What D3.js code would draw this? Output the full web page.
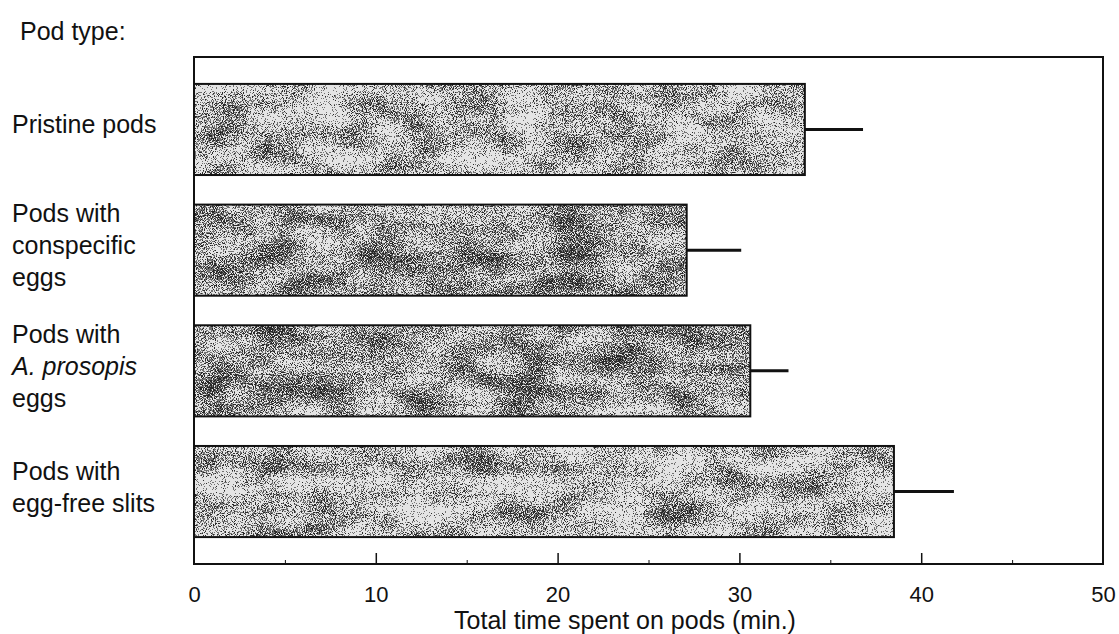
<!DOCTYPE html>
<html>
<head>
<meta charset="utf-8">
<script src="https://cdn.jsdelivr.net/npm/d3@7"></script>
<style>
  html, body { margin: 0; padding: 0; background: #fff; }
  svg { display: block; }
  text { font-family: "Liberation Sans", Arial, Helvetica, sans-serif; fill: #111; }
</style>
</head>
<body>
<svg id="chart" width="1119" height="634"></svg>
<script>
// Pod treatments (label lines; italic flag marks the species name)
const podTypes = [
  [{ t: "Pristine pods" }],
  [{ t: "Pods with" }, { t: "conspecific" }, { t: "eggs" }],
  [{ t: "Pods with" }, { t: "A. prosopis", italic: true }, { t: "eggs" }],
  [{ t: "Pods with" }, { t: "egg-free slits" }]
];
// Mean total time on pods (min.) and upper error value
const meanTime = [33.6, 27.1, 30.6, 38.5];
const errorTop = [36.8, 30.1, 32.7, 41.8];
const xTicks = [0, 10, 20, 30, 40, 50];
const xMinorTicks = [5, 15, 25, 35, 45];

const svg = d3.select("#chart");
const plot = { left: 194, right: 1103, top: 57, bottom: 564 };

const x = d3.scaleLinear().domain([0, 50]).range([plot.left, plot.right]);
const y = d3.scaleBand()
  .domain(d3.range(podTypes.length))
  .range([plot.top, plot.bottom])
  .paddingInner(0.245)
  .paddingOuter(0.223);

// Grainy halftone texture for the bars (two densities)
const defs = svg.append("defs");
function grainFilter(id, seed, offset) {
  const f = defs.append("filter").attr("id", id)
    .attr("x", 0).attr("y", 0).attr("width", 1).attr("height", 1)
    .attr("color-interpolation-filters", "sRGB");
  f.append("feTurbulence").attr("type", "fractalNoise").attr("baseFrequency", 1.1)
    .attr("numOctaves", 1).attr("seed", seed).attr("result", "fine");
  f.append("feTurbulence").attr("type", "fractalNoise").attr("baseFrequency", "0.02 0.04")
    .attr("numOctaves", 2).attr("seed", seed + 7).attr("result", "coarse");
  f.append("feColorMatrix").attr("in", "fine").attr("type", "matrix")
    .attr("values", "0 0 0 0 0  0 0 0 0 0  0 0 0 0 0  1 0 0 0 0").attr("result", "fineA");
  f.append("feColorMatrix").attr("in", "coarse").attr("type", "matrix")
    .attr("values", "0 0 0 0 0  0 0 0 0 0  0 0 0 0 0  0 1 0 0 0").attr("result", "coarseA");
  f.append("feComposite").attr("in", "fineA").attr("in2", "coarseA")
    .attr("operator", "arithmetic").attr("k1", 0).attr("k2", 3.4).attr("k3", 1.2).attr("k4", offset)
    .attr("result", "mixA");
  f.append("feComponentTransfer").attr("in", "mixA")
    .append("feFuncA").attr("type", "discrete").attr("tableValues", "0 0.5 0.82");
}
grainFilter("grainLight", 3, -2.08);
grainFilter("grainDark", 9, -1.93);
const grainOf = i => (i === 1 || i === 2) ? "url(#grainDark)" : "url(#grainLight)";

const bars = svg.append("g").selectAll("g.bar")
  .data(meanTime)
  .join("g").attr("class", "bar");

bars.append("rect")
  .attr("x", x(0))
  .attr("y", (d, i) => y(i))
  .attr("width", d => x(d) - x(0))
  .attr("height", y.bandwidth())
  .attr("fill", "#e4e4e4");

bars.append("rect")
  .attr("x", x(0))
  .attr("y", (d, i) => y(i))
  .attr("width", d => x(d) - x(0))
  .attr("height", y.bandwidth())
  .attr("fill", "#1a1a1a")
  .attr("filter", (d, i) => grainOf(i));

bars.append("rect")
  .attr("x", x(0))
  .attr("y", (d, i) => y(i))
  .attr("width", d => x(d) - x(0))
  .attr("height", y.bandwidth())
  .attr("fill", "none")
  .attr("stroke", "#111")
  .attr("stroke-width", 2);

// Error bars (upper side only)
svg.append("g").selectAll("line")
  .data(errorTop)
  .join("line")
  .attr("x1", (d, i) => x(meanTime[i]))
  .attr("x2", d => x(d))
  .attr("y1", (d, i) => y(i) + y.bandwidth() / 2)
  .attr("y2", (d, i) => y(i) + y.bandwidth() / 2)
  .attr("stroke", "#111")
  .attr("stroke-width", 3);

// Frame
svg.append("rect")
  .attr("x", plot.left).attr("y", plot.top)
  .attr("width", plot.right - plot.left).attr("height", plot.bottom - plot.top)
  .attr("fill", "none").attr("stroke", "#111").attr("stroke-width", 2);

// Bottom axis with inward ticks
const axis = svg.append("g").attr("transform", `translate(0,${plot.bottom})`)
  .call(d3.axisBottom(x).tickValues(xTicks).tickSize(-11).tickPadding(22).tickFormat(d3.format("d")));
axis.select(".domain").remove();
axis.selectAll(".tick line").attr("stroke", "#111").attr("stroke-width", 1.5)
  .filter(d => d === 0 || d === 50).remove();
axis.selectAll(".tick text")
  .attr("font-size", 22).attr("fill", "#111")
  .attr("font-family", "'Liberation Sans', Arial, sans-serif");

svg.append("g").attr("transform", `translate(0,${plot.bottom})`)
  .call(d3.axisBottom(x).tickValues(xMinorTicks).tickSize(-4).tickFormat(""))
  .call(g => g.select(".domain").remove())
  .selectAll(".tick line").attr("stroke", "#111").attr("stroke-width", 1);

svg.append("text")
  .attr("x", 625)
  .attr("y", 629)
  .attr("text-anchor", "middle")
  .attr("font-size", 25)
  .text("Total time spent on pods (min.)");

svg.append("text")
  .attr("x", 20).attr("y", 40)
  .attr("font-size", 25)
  .text("Pod type:");

// Category labels, stacked lines centred on each band
const lineH = 32;
const labels = svg.append("g").selectAll("text")
  .data(podTypes)
  .join("text")
  .attr("font-size", 25)
  .attr("x", 12);
labels.each(function (lines, i) {
  const cy = y(i) + y.bandwidth() / 2 - 5;
  const first = cy - (lines.length - 1) * lineH / 2 + 9;
  d3.select(this).selectAll("tspan")
    .data(lines)
    .join("tspan")
    .attr("x", 12)
    .attr("y", (d, j) => first + j * lineH)
    .attr("font-style", d => d.italic ? "italic" : "normal")
    .text(d => d.t);
});
</script>
</body>
</html>
